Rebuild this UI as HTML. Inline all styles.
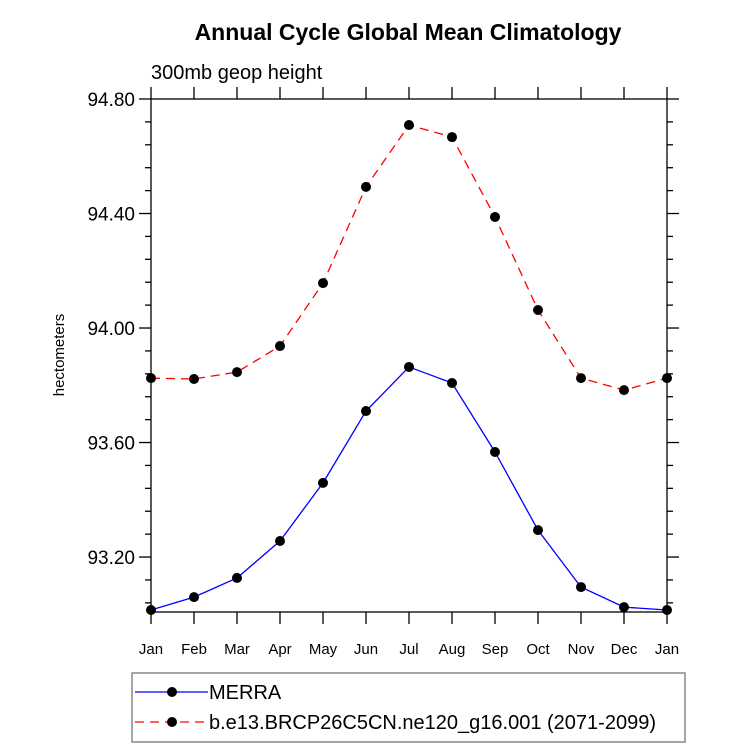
<!DOCTYPE html>
<html><head><meta charset="utf-8"><style>
body{margin:0;background:#fff}
svg text{font-family:"Liberation Sans",Helvetica,sans-serif}
</style></head><body>
<svg id="c" width="733" height="748" xmlns="http://www.w3.org/2000/svg">
<rect width="733" height="748" fill="#fff"/>
<text x="408" y="40" text-anchor="middle" font-size="23" font-weight="bold">Annual Cycle Global Mean Climatology</text>
<text x="151" y="79" font-size="20">300mb geop height</text>
<text transform="translate(64,355) rotate(-90)" text-anchor="middle" font-size="15">hectometers</text>
<g id="axes"></g><g id="series"></g>
<rect x="132" y="673" width="553" height="69" fill="none" stroke="#777" stroke-width="1.3"/>
<line x1="135" y1="692" x2="208" y2="692" stroke="#00f" stroke-width="1.3"/>
<circle cx="172" cy="692" r="5" fill="#000"/>
<text x="209" y="699" font-size="20">MERRA</text>
<line x1="135" y1="722" x2="208" y2="722" stroke="#f00" stroke-width="1.3" stroke-dasharray="9,6"/>
<circle cx="172" cy="722" r="5" fill="#000"/>
<text x="209" y="729" font-size="20">b.e13.BRCP26C5CN.ne120_g16.001 (2071-2099)</text>
</svg>
<script>
const months=["Jan","Feb","Mar","Apr","May","Jun","Jul","Aug","Sep","Oct","Nov","Dec","Jan"];
const merra=[93.015,93.060,93.127,93.256,93.459,93.710,93.864,93.808,93.567,93.294,93.095,93.025,93.015];
const model=[93.825,93.822,93.846,93.937,94.157,94.493,94.709,94.667,94.388,94.063,93.825,93.783,93.825];
const yTicks=["93.20","93.60","94.00","94.40","94.80"];
const NS="http://www.w3.org/2000/svg";
const L=151,R=667,T=99,B=612,yMin=93.008,yMax=94.80;
const xs=i=>L+(R-L)*i/(months.length-1);
const ys=v=>B-(B-T)*(v-yMin)/(yMax-yMin);
function mk(p,tag,a){const e=document.createElementNS(NS,tag);for(const k in a)e.setAttribute(k,a[k]);p.appendChild(e);return e;}
const ax=document.getElementById('axes');
const fr=mk(ax,'rect',{x:L,y:T,width:R-L,height:B-T,fill:'none',stroke:'#000','stroke-width':1.3});


months.forEach((m,i)=>{const x=xs(i);
 mk(ax,'line',{x1:x,y1:B,x2:x,y2:B+12,stroke:'#000','stroke-width':1.3});
 mk(ax,'line',{x1:x,y1:T,x2:x,y2:T-12,stroke:'#000','stroke-width':1.3});
 const t=mk(ax,'text',{x:x,y:B+42,'text-anchor':'middle','font-size':15});t.textContent=m;
 
 
});
for(let v=yMax;v>yMin;v-=0.08){const y=ys(v);const maj=Math.abs(((v-93.2)/0.4)-Math.round((v-93.2)/0.4))<0.01;const len=maj?12:6;
 mk(ax,'line',{x1:L,y1:y,x2:L-len,y2:y,stroke:'#000','stroke-width':1.3});
 mk(ax,'line',{x1:R,y1:y,x2:R+len,y2:y,stroke:'#000','stroke-width':1.3});}
yTicks.forEach(s=>{const t=mk(ax,'text',{x:L-16,y:ys(+s)+7,'text-anchor':'end','font-size':19});t.textContent=s;
 
 });
const sg=document.getElementById('series');
function draw(d,col,dash,name){
 const pl=mk(sg,'polyline',{points:d.map((v,i)=>xs(i)+','+ys(v)).join(' '),fill:'none',stroke:col,'stroke-width':1.3,'stroke-dasharray':dash});
 
 
 d.forEach((v,i)=>{const c=mk(sg,'circle',{cx:xs(i),cy:ys(v),r:5,fill:'#000'});
  
  });
}
draw(model,'#f00','9,6','model');
draw(merra,'#00f','none','merra');
</script>
</body></html>
